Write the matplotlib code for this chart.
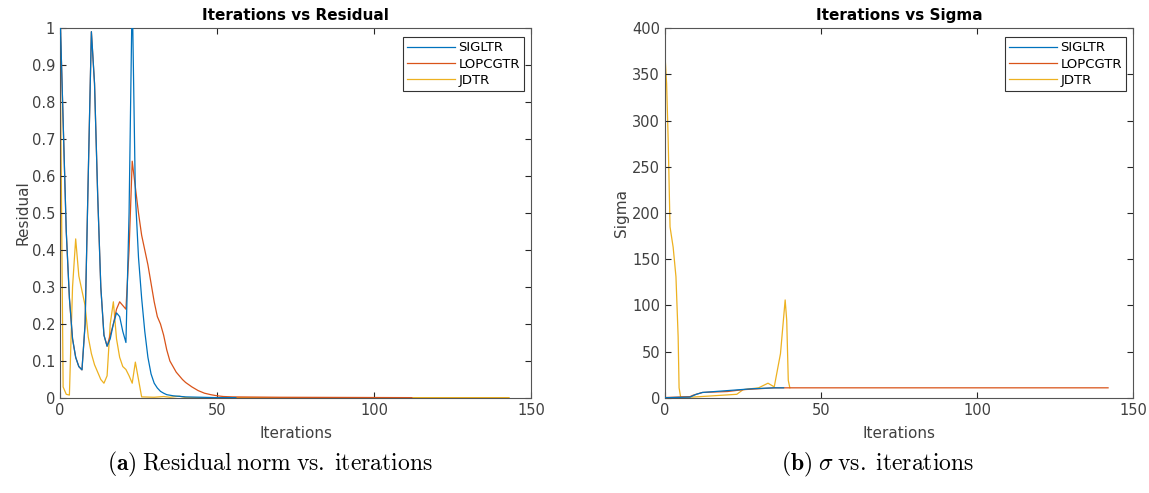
import numpy as np
import matplotlib
matplotlib.use('Agg')
from matplotlib import pyplot as plt

plt.rcParams['font.family'] = ['DejaVu Sans']
plt.rcParams['mathtext.fontset'] = 'cm'

# ---- residual vs iterations (a) ----
sig_it = [0, 1, 2, 3, 4, 5, 6, 7, 8, 9, 10, 11, 12, 13, 14, 15, 16, 17, 18, 19, 20, 21,
          22, 23, 24, 25, 26, 27, 28, 29, 30, 31, 32, 33, 34, 36, 40, 45, 50, 56]
sig_res = [1.05, 0.75, 0.45, 0.27, 0.16, 0.11, 0.085, 0.076, 0.2, 0.6, 0.99, 0.85, 0.55,
           0.3, 0.17, 0.14, 0.16, 0.2, 0.23, 0.22, 0.18, 0.15, 0.5, 1.1, 0.55, 0.38,
           0.27, 0.18, 0.11, 0.065, 0.04, 0.027, 0.018, 0.013, 0.009, 0.006, 0.003,
           0.002, 0.001, 0.001]

lop_it = [0, 1, 2, 3, 4, 5, 6, 7, 8, 9, 10, 11, 12, 13, 14, 15, 16, 17, 18, 19, 20, 21,
          22, 23, 24, 25, 26, 27, 28, 29, 30, 31, 32, 33, 34, 35, 36, 37, 38, 39, 40,
          42, 44, 46, 48, 50, 52, 55, 70, 112]
lop_res = [1.05, 0.75, 0.45, 0.27, 0.16, 0.11, 0.085, 0.076, 0.2, 0.6, 0.99, 0.85, 0.55,
           0.3, 0.17, 0.14, 0.17, 0.2, 0.24, 0.26, 0.25, 0.24, 0.4, 0.64, 0.57, 0.5,
           0.44, 0.4, 0.36, 0.31, 0.26, 0.22, 0.2, 0.17, 0.13, 0.1, 0.085, 0.07, 0.06,
           0.05, 0.042, 0.03, 0.02, 0.013, 0.009, 0.006, 0.004, 0.003, 0.002, 0.001]

jd_it = [0, 1, 2, 3, 4, 5, 6, 7, 8, 9, 10, 11, 12, 13, 14, 15, 16, 17, 18, 19, 20, 21,
         22, 23, 24, 25, 26, 30, 33, 35, 38, 40, 60, 143]
jd_res = [1.0, 0.03, 0.01, 0.008, 0.3, 0.43, 0.33, 0.29, 0.25, 0.165, 0.12, 0.09, 0.07,
          0.05, 0.04, 0.06, 0.2, 0.26, 0.16, 0.11, 0.085, 0.077, 0.06, 0.04, 0.097,
          0.05, 0.003, 0.002, 0.004, 0.002, 0.005, 0.001, 0.001, 0.001]

# ---- sigma vs iterations (b) ----
sig_it_b = [0, 8, 10, 12, 20, 28, 35, 38]
sig_sig = [0.3, 1.0, 4.0, 6.0, 8.0, 10.0, 11.0, 11.0]

lop_it_b = [0, 8, 9, 12, 20, 25, 30, 35, 142]
lop_sig = [0.5, 1.5, 3.0, 6.0, 7.0, 9.0, 10.0, 11.0, 11.0]

jd_it_b = [0, 0.5, 1, 1.6, 2.6, 3.5, 4.2, 4.5, 5, 9, 23, 25, 30, 33, 35, 37, 38.5, 39,
           39.5, 40]
jd_sig = [370, 340, 280, 185, 163, 131, 66, 11, 1, 1, 4, 9, 11, 16, 12, 48, 106, 84,
          19, 11]

labels = ['SIGLTR', 'LOPCGTR', 'JDTR']
colors = ['#0072BD', '#D95319', '#EDB120']

fig = plt.figure(figsize=(11.49, 4.93), dpi=100)
ax1 = fig.add_axes([0.0522, 0.1927, 0.410, 0.7505])
ax2 = fig.add_axes([0.5788, 0.1927, 0.4073, 0.7505])


def style(ax):
    for s in ax.spines.values():
        s.set_color('#555555')
        s.set_linewidth(0.8)
    ax.tick_params(direction='in', top=True, right=True, length=4, width=0.8,
                   colors='#262626', labelsize=10.5, labelcolor='#404040')


lw = 0.9
ax1.plot(lop_it, lop_res, color=colors[1], lw=lw, label=labels[1], zorder=2)
ax1.plot(sig_it, sig_res, color=colors[0], lw=lw, label=labels[0], zorder=3)
ax1.plot(jd_it, jd_res, color=colors[2], lw=lw, label=labels[2], zorder=1)
ax1.set_xlim(0, 150)
ax1.set_ylim(0, 1)
ax1.set_xticks([0, 50, 100, 150])
ax1.set_yticks(np.arange(0, 1.01, 0.1))
ax1.set_yticklabels(['0', '0.1', '0.2', '0.3', '0.4', '0.5', '0.6', '0.7', '0.8', '0.9', '1'])
ax1.set_title('Iterations vs Residual', fontsize=11, fontweight='bold', pad=6)
ax1.set_xlabel('Iterations', fontsize=11, color='#404040', labelpad=6)
ax1.set_ylabel('Residual', fontsize=11, color='#404040', labelpad=1)
style(ax1)

ax2.plot(lop_it_b, lop_sig, color=colors[1], lw=lw, label=labels[1], zorder=2)
ax2.plot(sig_it_b, sig_sig, color=colors[0], lw=lw, label=labels[0], zorder=3)
ax2.plot(jd_it_b, jd_sig, color=colors[2], lw=lw, label=labels[2], zorder=1)
ax2.set_xlim(0, 150)
ax2.set_ylim(0, 400)
ax2.set_xticks([0, 50, 100, 150])
ax2.set_yticks(np.arange(0, 401, 50))
ax2.set_title('Iterations vs Sigma', fontsize=11, fontweight='bold', pad=6)
ax2.set_xlabel('Iterations', fontsize=11, color='#404040', labelpad=6)
ax2.set_ylabel('Sigma', fontsize=11, color='#404040', labelpad=2)
style(ax2)

for ax in (ax1, ax2):
    h, l = ax.get_legend_handles_labels()
    order = [l.index(n) for n in labels]
    leg = ax.legend([h[i] for i in order], [l[i] for i in order], loc='upper right',
                    bbox_to_anchor=(0.985, 0.975), fontsize=9.5, fancybox=False,
                    framealpha=1, edgecolor='#333333', handlelength=3.6,
                    handletextpad=0.3, borderpad=0.3, labelspacing=0.25,
                    borderaxespad=0)
    leg.get_frame().set_linewidth(0.8)

fig.text(0.093, 0.057, r'$\mathbf{(a)}\;\mathrm{Residual\;norm\;vs.\;iterations}$',
         fontsize=17, ha='left', va='center')
fig.text(0.68, 0.057, r'$\mathbf{(b)}\;\sigma\;\mathrm{vs.\;iterations}$',
         fontsize=17, ha='left', va='center')

fig.savefig('out.png', dpi=100)
